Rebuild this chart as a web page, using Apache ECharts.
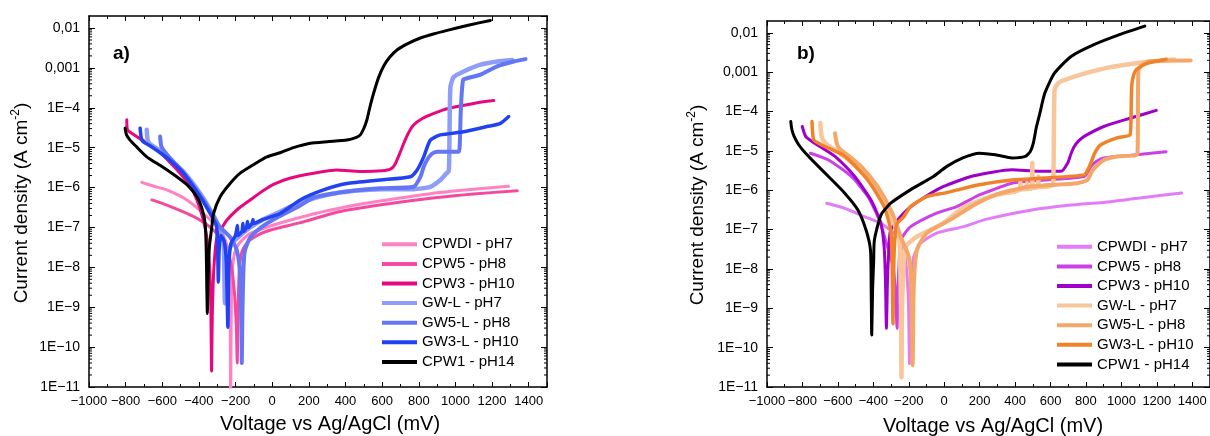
<!DOCTYPE html>
<html>
<head>
<meta charset="utf-8">
<script src="https://cdn.jsdelivr.net/npm/echarts@6/dist/echarts.min.js"></script>
<style>
  html, body { margin: 0; padding: 0; background: #fff; }
  #chart { width: 1210px; height: 436px; }
</style>
</head>
<body>
<div id="chart"></div>
<script>
// Potentiodynamic polarisation curves.
// Each point: [potential in mV vs Ag/AgCl, log10 of current density in A cm^-2]

const seriesNames = ['CPWDI - pH7', 'CPW5 - pH8', 'CPW3 - pH10', 'GW-L - pH7', 'GW5-L - pH8', 'GW3-L - pH10', 'CPW1 - pH14'];

// decade tick labels, 1E-11 ... 0,01
const yTickExponents = [-11, -10, -9, -8, -7, -6, -5, -4, -3, -2];
const yTickLabels = ['1E\u221211', '1E\u221210', '1E\u22129', '1E\u22128', '1E\u22127', '1E\u22126', '1E\u22125', '1E\u22124', '0,001', '0,01'];

// ---- panel a) ----
const aCPWDI = [[-712,-5.87],[-650,-5.96],[-575,-6.06],[-466,-6.31],[-375,-6.65],[-284,-7.07],[-250,-7.40],[-238,-7.70],[-232,-8.3],[-229,-9.5],[-227,-11.5],[-224,-9.5],[-220,-8.24],[-210,-7.75],[-193,-7.49],[-160,-7.30],[-120,-7.15],[-50,-7.03],[7,-6.94],[135,-6.77],[300,-6.58],[500,-6.40],[700,-6.26],[900,-6.13],[1100,-6.04],[1290,-5.97]];
const aCPW5 = [[-657,-6.31],[-575,-6.44],[-466,-6.65],[-393,-6.82],[-320,-7.07],[-260,-7.40],[-225,-7.9],[-205,-8.7],[-195,-9.6],[-191,-10.4],[-188,-9.6],[-184,-8.6],[-178,-8.0],[-165,-7.6],[-130,-7.35],[-60,-7.15],[0,-7.05],[153,-6.88],[372,-6.6],[645,-6.40],[900,-6.25],[1100,-6.16],[1337,-6.08]];
const aCPW3 = [[-794,-4.30],[-790,-4.55],[-767,-4.64],[-720,-4.78],[-650,-4.97],[-590,-5.22],[-503,-5.64],[-450,-5.95],[-411,-6.31],[-380,-6.75],[-355,-7.3],[-342,-8.0],[-335,-9.0],[-331,-10.6],[-327,-9.2],[-318,-8.0],[-302,-7.24],[-280,-7.05],[-248,-6.82],[-190,-6.55],[-120,-6.31],[-50,-6.08],[7,-5.92],[100,-5.76],[226,-5.64],[353,-5.56],[420,-5.58],[499,-5.60],[600,-5.58],[645,-5.54],[670,-5.42],[700,-5.10],[718,-4.89],[745,-4.62],[772,-4.43],[815,-4.28],[863,-4.18],[930,-4.06],[1009,-3.97],[1100,-3.89],[1209,-3.82]];
const aGWL = [[-685,-4.55],[-680,-4.80],[-670,-4.90],[-620,-5.05],[-575,-5.22],[-485,-5.60],[-393,-6.15],[-339,-6.55],[-293,-6.95],[-266,-7.32],[-262,-7.9],[-258,-8.9],[-252,-8.0],[-240,-7.6],[-210,-7.35],[-175,-7.2],[-120,-7.0],[-50,-6.8],[7,-6.68],[153,-6.38],[300,-6.18],[450,-6.08],[600,-6.04],[772,-6.04],[863,-5.98],[918,-5.81],[950,-5.65],[964,-5.58],[968,-4.6],[973,-3.47],[991,-3.23],[1045,-3.09],[1137,-2.92],[1228,-2.84],[1310,-2.80]];
const aGW5L = [[-612,-4.72],[-606,-4.95],[-595,-5.05],[-560,-5.25],[-485,-5.62],[-400,-6.15],[-339,-6.58],[-293,-6.95],[-230,-7.24],[-193,-7.57],[-175,-8.2],[-168,-9.5],[-166,-10.4],[-163,-9.3],[-158,-8.2],[-150,-7.6],[-120,-7.25],[-60,-7.0],[7,-6.8],[153,-6.45],[226,-6.25],[408,-6.10],[590,-6.02],[772,-5.98],[809,-5.73],[827,-5.48],[845,-5.31],[870,-5.16],[900,-5.10],[1018,-5.10],[1024,-4.9],[1030,-4.0],[1042,-3.30],[1064,-3.26],[1137,-3.17],[1228,-2.96],[1319,-2.84],[1383,-2.78]];
const aGW3L = [[-721,-4.51],[-715,-4.75],[-705,-4.85],[-667,-4.95],[-575,-5.25],[-485,-5.64],[-393,-6.23],[-339,-6.65],[-305,-6.95],[-298,-7.5],[-294,-8.37],[-290,-7.6],[-280,-7.2],[-262,-7.35],[-250,-7.9],[-242,-9.5],[-237,-8.0],[-225,-7.4],[-200,-7.2],[-190,-6.95],[-186,-7.2],[-165,-7.1],[-160,-6.9],[-155,-7.1],[-140,-7.0],[-135,-6.85],[-130,-7.0],[-110,-6.9],[-105,-6.8],[-100,-6.9],[-50,-6.8],[44,-6.65],[153,-6.31],[280,-6.06],[408,-5.90],[590,-5.81],[754,-5.73],[791,-5.56],[827,-5.23],[863,-4.81],[918,-4.68],[1045,-4.60],[1173,-4.47],[1246,-4.39],[1291,-4.22]];
const aCPW1 = [[-803,-4.51],[-795,-4.68],[-776,-4.81],[-740,-4.98],[-685,-5.23],[-600,-5.48],[-521,-5.73],[-460,-5.95],[-411,-6.23],[-385,-6.50],[-366,-6.90],[-360,-7.6],[-357,-8.5],[-354,-9.16],[-350,-8.3],[-343,-7.5],[-330,-7.0],[-320,-6.65],[-284,-6.23],[-230,-5.9],[-175,-5.64],[-100,-5.42],[-29,-5.23],[47,-5.12],[116,-5.00],[208,-4.89],[300,-4.85],[408,-4.81],[460,-4.74],[481,-4.68],[500,-4.52],[517,-4.30],[535,-3.95],[554,-3.63],[580,-3.25],[608,-2.96],[640,-2.74],[681,-2.55],[740,-2.39],[809,-2.25],[880,-2.15],[955,-2.06],[1070,-1.93],[1191,-1.81]];

// ---- panel b) ----
const bCPWDI = [[-663,-6.33],[-560,-6.46],[-450,-6.67],[-357,-6.84],[-265,-7.18],[-230,-7.50],[-215,-7.9],[-202,-8.8],[-196,-10.41],[-192,-9.0],[-185,-8.2],[-172,-7.69],[-135,-7.35],[-43,-7.09],[105,-6.93],[235,-6.74],[494,-6.50],[700,-6.38],[938,-6.29],[1150,-6.17],[1340,-6.07]];
const bCPW5 = [[-755,-5.06],[-653,-5.23],[-524,-5.65],[-431,-6.16],[-366,-6.76],[-320,-7.44],[-290,-7.9],[-275,-8.6],[-266,-9.51],[-260,-8.4],[-252,-7.6],[-246,-7.27],[-191,-6.93],[-43,-6.58],[68,-6.42],[142,-6.25],[198,-6.12],[383,-5.82],[568,-5.74],[790,-5.65],[815,-5.50],[827,-5.40],[860,-5.26],[901,-5.18],[1000,-5.13],[1086,-5.10],[1252,-5.02]];
const bCPW3 = [[-801,-4.38],[-782,-4.63],[-746,-4.76],[-680,-4.95],[-616,-5.14],[-505,-5.65],[-413,-6.25],[-357,-6.84],[-339,-7.44],[-332,-8.2],[-326,-9.51],[-320,-8.3],[-312,-7.5],[-302,-7.01],[-228,-6.58],[-135,-6.25],[-6,-5.91],[161,-5.64],[383,-5.48],[531,-5.52],[660,-5.52],[697,-5.31],[715,-5.08],[734,-4.89],[760,-4.74],[790,-4.63],[901,-4.38],[1049,-4.17],[1197,-3.97]];
const bGWL = [[-699,-4.29],[-690,-4.67],[-660,-4.85],[-598,-5.02],[-468,-5.52],[-376,-6.08],[-302,-6.67],[-255,-7.18],[-248,-7.9],[-244,-9.0],[-241,-10.75],[-238,-9.0],[-230,-8.0],[-219,-7.44],[-154,-7.18],[-6,-6.84],[105,-6.45],[179,-6.30],[290,-6.12],[429,-5.98],[430,-5.78],[432,-5.98],[466,-5.96],[467,-5.82],[469,-5.96],[495,-5.95],[497,-5.30],[500,-5.94],[529,-5.93],[531,-5.65],[534,-5.92],[614,-5.86],[618,-5.0],[623,-3.44],[640,-3.30],[660,-3.23],[771,-3.06],[919,-2.89],[1104,-2.76],[1299,-2.68]];
const bGW5L = [[-616,-4.55],[-607,-4.80],[-590,-4.95],[-540,-5.12],[-468,-5.40],[-376,-5.91],[-293,-6.58],[-246,-7.18],[-200,-7.69],[-186,-8.5],[-178,-10.45],[-172,-8.5],[-154,-7.52],[-98,-7.09],[31,-6.76],[179,-6.35],[300,-6.10],[475,-5.91],[753,-5.82],[808,-5.74],[830,-5.55],[845,-5.45],[901,-5.23],[975,-5.14],[1090,-5.08],[1093,-4.5],[1095,-3.02],[1105,-2.86],[1160,-2.72],[1391,-2.70]];
const bGW3L = [[-746,-4.25],[-736,-4.72],[-690,-4.85],[-560,-5.14],[-431,-5.74],[-339,-6.42],[-302,-7.01],[-294,-7.8],[-289,-9.39],[-284,-7.8],[-275,-7.0],[-265,-6.84],[-228,-6.67],[-191,-6.42],[-98,-6.16],[13,-6.06],[198,-5.86],[383,-5.74],[568,-5.69],[790,-5.61],[810,-5.48],[827,-5.31],[850,-5.05],[882,-4.85],[975,-4.67],[1049,-4.59],[1054,-4.2],[1058,-3.36],[1070,-3.05],[1086,-2.93],[1141,-2.78],[1252,-2.67]];
const bCPW1 = [[-866,-4.25],[-860,-4.45],[-847,-4.63],[-820,-4.85],[-782,-5.06],[-720,-5.35],[-653,-5.65],[-560,-6.08],[-487,-6.50],[-441,-7.01],[-416,-7.52],[-412,-8.5],[-409,-9.68],[-404,-8.5],[-398,-7.8],[-394,-7.27],[-357,-6.63],[-302,-6.33],[-191,-5.99],[-61,-5.65],[13,-5.40],[105,-5.18],[198,-5.06],[290,-5.10],[383,-5.18],[457,-5.14],[485,-5.02],[503,-4.80],[520,-4.40],[540,-4.04],[568,-3.53],[623,-3.02],[716,-2.60],[845,-2.30],[993,-2.04],[1132,-1.83]];

const panelACurves = [aCPWDI, aCPW5, aCPW3, aGWL, aGW5L, aGW3L, aCPW1];
const panelBCurves = [bCPWDI, bCPW5, bCPW3, bGWL, bGW5L, bGW3L, bCPW1];

const panelAColors = ['#FF82C3', '#F24A9E', '#E6097D', '#8E9EF8', '#6476F4', '#2142F2', '#000000'];
const panelBColors = ['#E27DF8', '#CC40E8', '#9E00C9', '#F9C59A', '#F4A769', '#F0832A', '#000000'];
const lineWidths = [3, 3, 3, 4.5, 4, 3.5, 3];

const FONT = '"Liberation Sans", Arial, sans-serif';
const V_MIN = -1000, V_MAX = 1500;
const J_MIN = 1e-11, J_MAX = 0.02;

// panel boxes (pixels)
const grids = [
  { left: 89, top: 16, width: 458, height: 371 },
  { left: 767, top: 21, width: 451, height: 366 }
];

function yLabel(v) {
  const e = Math.round(Math.log10(v));
  if (Math.abs(Math.log10(v) - e) > 0.01) return '';
  const i = yTickExponents.indexOf(e);
  return i >= 0 ? yTickLabels[i] : '';
}

function xLabel(v) {
  return v < 0 ? '\u2212' + Math.abs(v) : String(v);
}

function makeXAxes(gi) {
  const common = {
    type: 'value', gridIndex: gi, min: V_MIN, max: V_MAX, interval: 200,
    splitLine: { show: false },
    axisLine: { show: true, onZero: false, lineStyle: { color: '#000', width: 1.5 } },
    axisTick: { show: true, inside: true, length: 5, lineStyle: { color: '#000', width: 1 } },
    minorTick: { show: true, splitNumber: 2, length: 3, lineStyle: { color: '#000', width: 1 } },
    minorSplitLine: { show: false }
  };
  return [
    Object.assign({}, common, {
      position: 'bottom',
      axisLabel: { show: true, formatter: xLabel, fontSize: 13, fontFamily: FONT, color: '#000', margin: 8, showMaxLabel: false }
    }),
    Object.assign({}, common, { position: 'top', axisLabel: { show: false } })
  ];
}

function makeYAxes(gi) {
  const common = {
    type: 'log', logBase: 10, gridIndex: gi, min: J_MIN, max: J_MAX, splitNumber: 10,
    splitLine: { show: false },
    axisLine: { show: true, onZero: false, lineStyle: { color: '#000', width: 1.5 } },
    axisTick: { show: true, inside: true, length: 6, lineStyle: { color: '#000', width: 1 } }
  };
  return [
    Object.assign({}, common, {
      position: 'left',
      axisLabel: { show: true, formatter: yLabel, fontSize: 14, fontFamily: FONT, color: '#000', margin: 9, showMaxLabel: false }
    }),
    Object.assign({}, common, { position: 'right', axisLabel: { show: false } })
  ];
}

function makeCurves(prefix, gi, curves, colors) {
  return curves.map((pts, i) => ({
    name: prefix + '|' + seriesNames[i],
    type: 'line',
    xAxisIndex: gi * 2,
    yAxisIndex: gi * 2,
    data: pts.map(p => [p[0], Math.pow(10, p[1])]),
    showSymbol: false,
    symbol: 'none',
    smooth: 0.2,
    clip: true,
    z: 2 + i,
    lineStyle: { color: colors[i], width: lineWidths[i], join: 'round', cap: 'round' },
    itemStyle: { color: colors[i] }
  }));
}

// logarithmic minor ticks (2..9 within each decade) on the left and right frame
const minorTickValues = [];
for (let e = -11; e <= -2; e++) {
  for (let k = 2; k <= 9; k++) {
    const v = k * Math.pow(10, e);
    if (v < J_MAX) minorTickValues.push(v);
  }
}

function makeMinorTicks(gi) {
  return {
    type: 'custom',
    xAxisIndex: gi * 2,
    yAxisIndex: gi * 2,
    silent: true,
    clip: false,
    z: 20,
    encode: { x: 0, y: 1 },
    data: minorTickValues.map(v => [V_MIN, v]),
    renderItem(params, api) {
      const v = api.value(1);
      const l = api.coord([V_MIN, v]);
      const r = api.coord([V_MAX, v]);
      const st = { stroke: '#000', lineWidth: 1 };
      return {
        type: 'group',
        children: [
          { type: 'line', shape: { x1: l[0], y1: l[1], x2: l[0] + 3, y2: l[1] }, style: st },
          { type: 'line', shape: { x1: r[0] - 3, y1: r[1], x2: r[0], y2: r[1] }, style: st }
        ]
      };
    }
  };
}

function makeLegend(prefix, left, top) {
  return {
    orient: 'vertical', left: left, top: top, padding: 0, itemGap: 0,
    icon: 'rect', itemWidth: 35, itemHeight: 4, selectedMode: false,
    data: seriesNames.map(n => prefix + '|' + n),
    formatter: n => n.split('|')[1],
    textStyle: { fontSize: 15, lineHeight: 19.6, fontFamily: FONT, color: '#000', padding: [0, 0, 0, 0] }
  };
}

function textEl(x, y, text, style, rotation) {
  return {
    type: 'text', x: x, y: y, rotation: rotation || 0, silent: true,
    style: Object.assign({ text: text, fill: '#000', font: '19px ' + FONT, align: 'center', verticalAlign: 'middle' }, style)
  };
}

const yTitleRich = {
  a: { fontSize: 19, fontFamily: FONT, fill: '#000', lineHeight: 24 },
  s: { fontSize: 12, fontFamily: FONT, fill: '#000', lineHeight: 24, verticalAlign: 'top' }
};
const yTitle = '{a|Current density (A cm}{s|-2}{a|)}';

const chart = echarts.init(document.getElementById('chart'), null, { renderer: 'canvas' });
chart.setOption({
  animation: false,
  backgroundColor: '#fff',
  grid: grids.map(g => Object.assign({ containLabel: false }, g)),
  xAxis: makeXAxes(0).concat(makeXAxes(1)),
  yAxis: makeYAxes(0).concat(makeYAxes(1)),
  legend: [makeLegend('a', 382, 234.5), makeLegend('b', 1057, 237)],
  series: makeCurves('a', 0, panelACurves, panelAColors)
    .concat(makeCurves('b', 1, panelBCurves, panelBColors))
    .concat([makeMinorTicks(0), makeMinorTicks(1)]),
  graphic: [
    textEl(22, 203, yTitle, { rich: yTitleRich }, Math.PI / 2),
    textEl(698, 205, yTitle, { rich: yTitleRich }, Math.PI / 2),
    textEl(330, 424, 'Voltage vs Ag/AgCl (mV)', { font: '20px ' + FONT }),
    textEl(993, 426, 'Voltage vs Ag/AgCl (mV)', { font: '20px ' + FONT }),
    textEl(113, 54, 'a)', { font: 'bold 19px ' + FONT, align: 'left' }),
    textEl(797, 54, 'b)', { font: 'bold 19px ' + FONT, align: 'left' })
  ]
});
</script>
</body>
</html>
